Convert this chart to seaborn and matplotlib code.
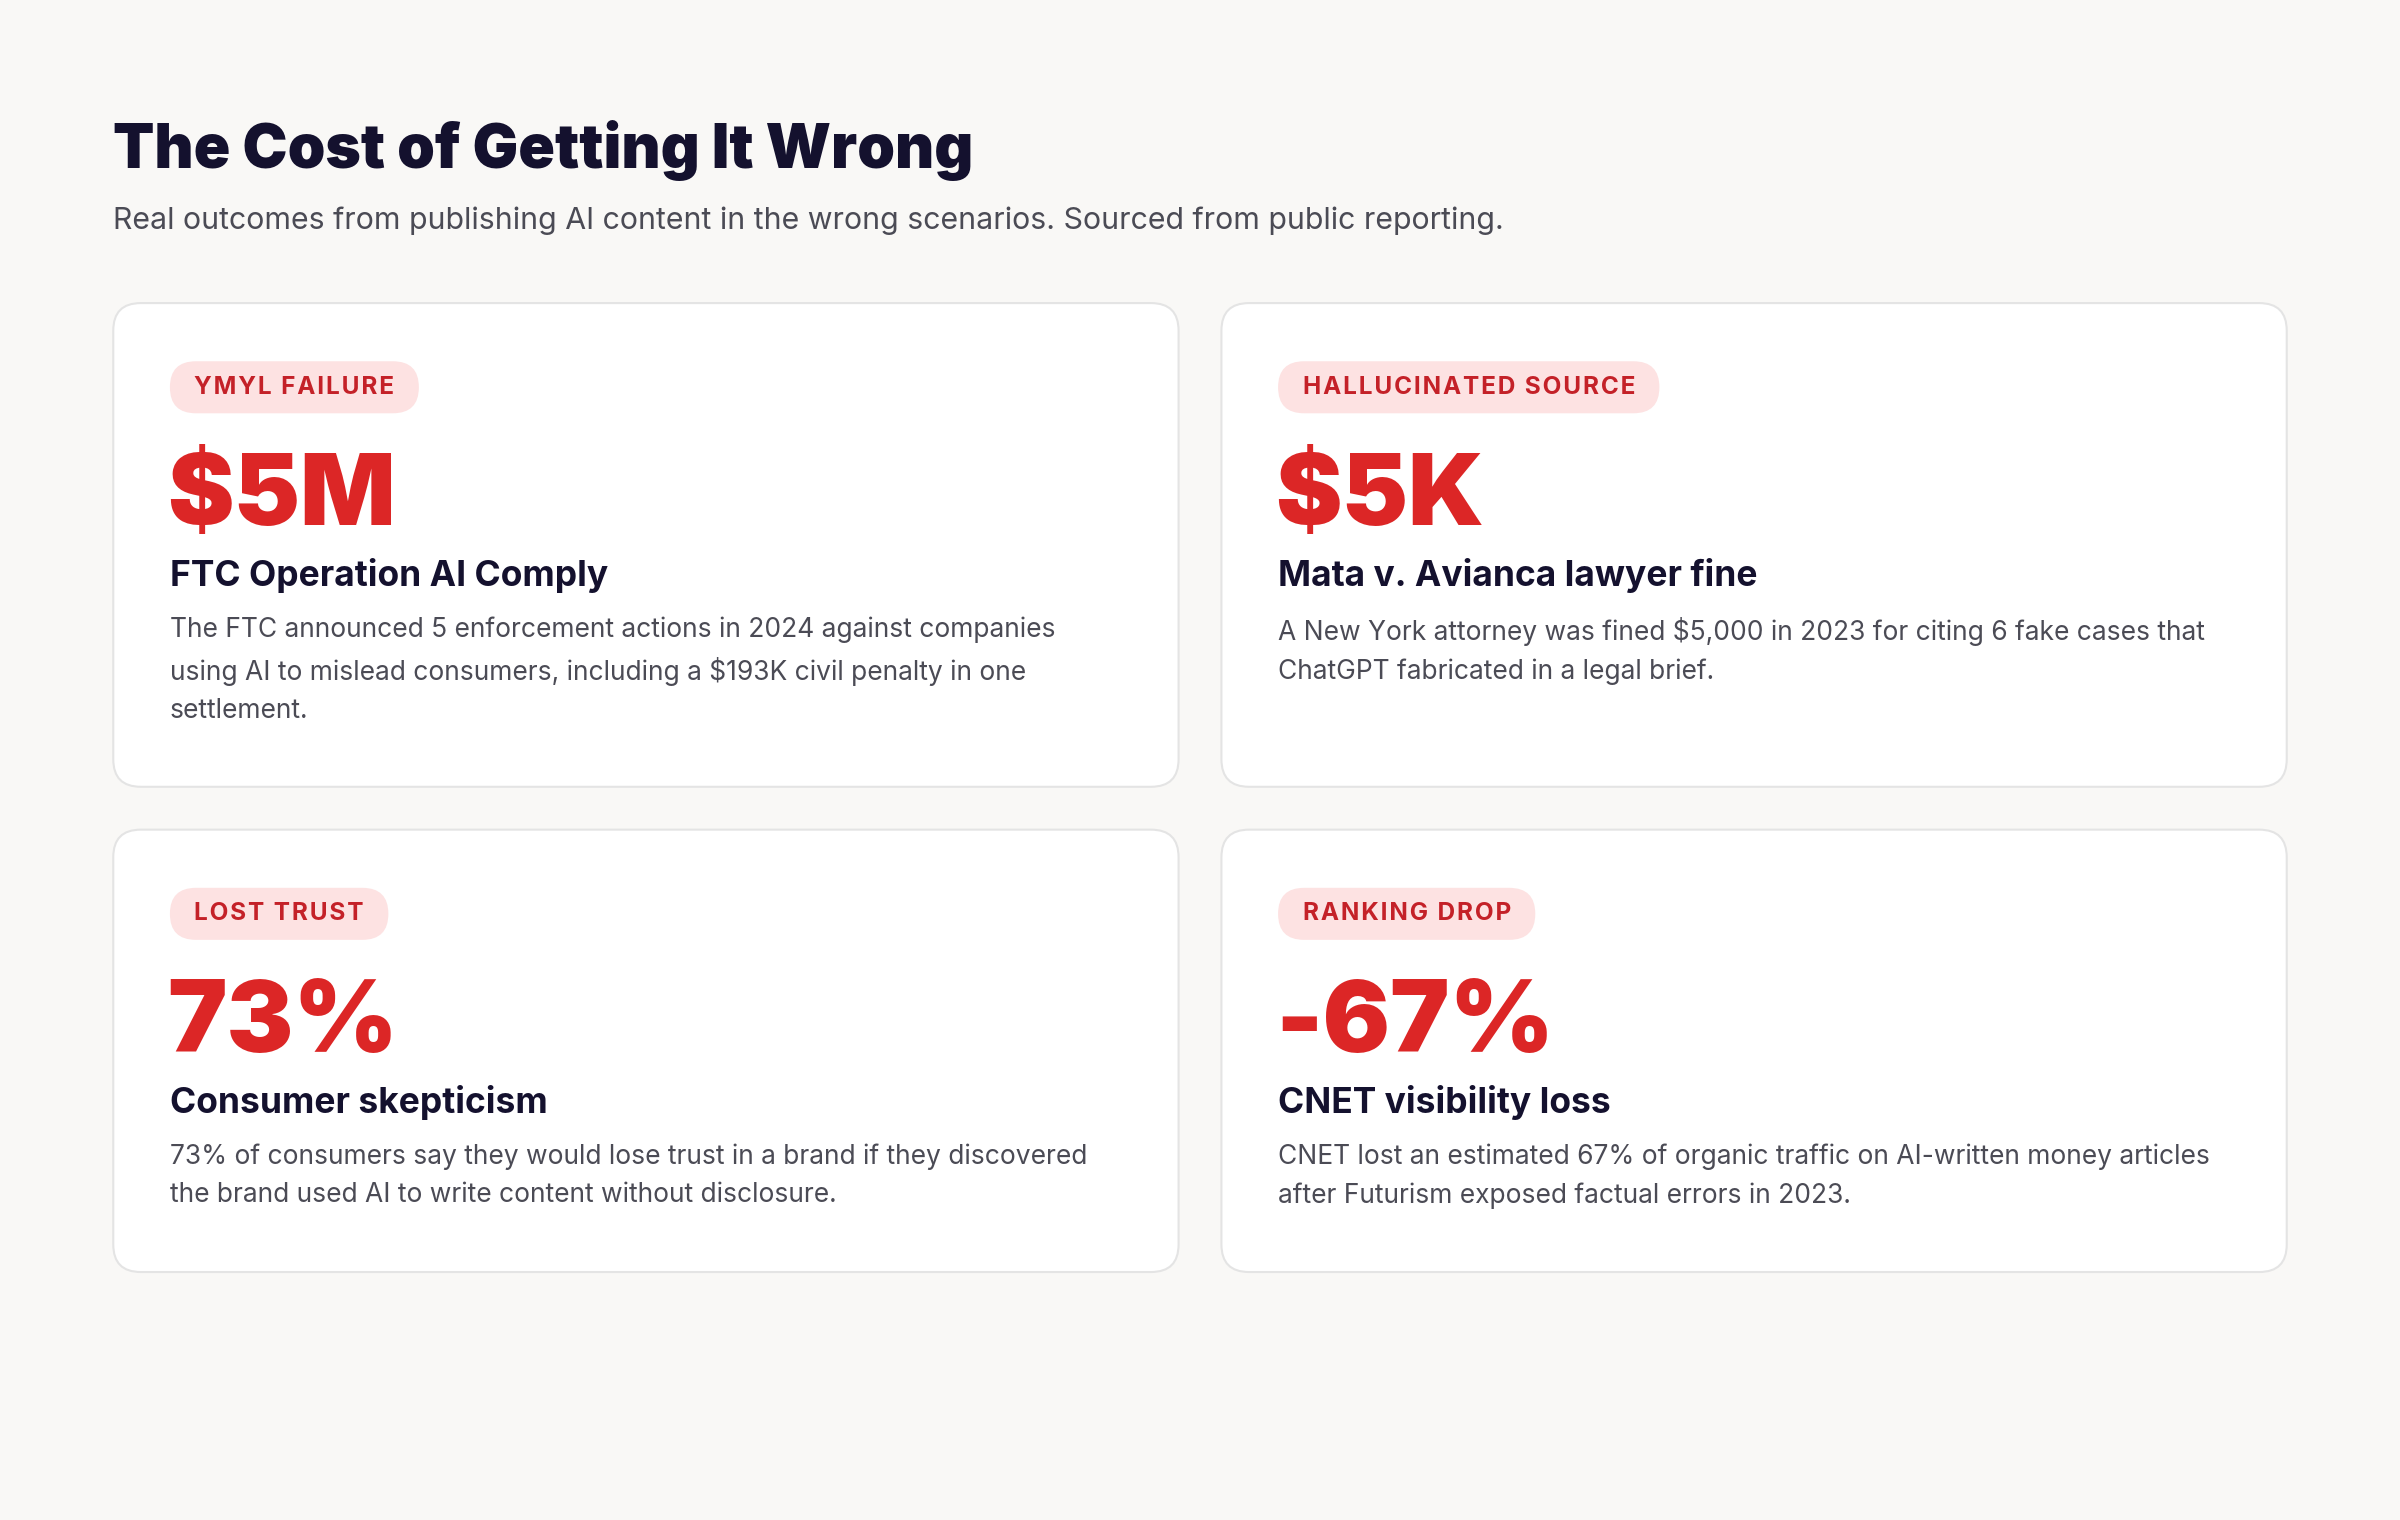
import matplotlib.pyplot as plt
import seaborn as sns
from matplotlib.patches import FancyBboxPatch

sns.set_theme(style='white')
plt.rcParams['font.family'] = ['Inter', 'DejaVu Sans']

# chart content
title = 'The Cost of Getting It Wrong'
subtitle = ('Real outcomes from publishing AI content in the wrong scenarios. '
            'Sourced from public reporting.')
badges = ['YMYL FAILURE', 'HALLUCINATED SOURCE', 'LOST TRUST', 'RANKING DROP']
figures = ['$5M', '$5K', '73%', '-67%']
headings = ['FTC Operation AI Comply', 'Mata v. Avianca lawyer fine',
            'Consumer skepticism', 'CNET visibility loss']
descriptions = [
    'The FTC announced 5 enforcement actions in 2024 against companies\n'
    'using AI to mislead consumers, including a $193K civil penalty in one\n'
    'settlement.',
    'A New York attorney was fined $5,000 in 2023 for citing 6 fake cases that\n'
    'ChatGPT fabricated in a legal brief.',
    '73% of consumers say they would lose trust in a brand if they discovered\n'
    'the brand used AI to write content without disclosure.',
    'CNET lost an estimated 67% of organic traffic on AI-written money articles\n'
    'after Futurism exposed factual errors in 2023.',
]

BG = '#f9f8f6'
RED = '#dc2626'
NAVY = '#14112e'
GREY = '#4b4b55'

fig = plt.figure(figsize=(24, 15.2), dpi=100)
fig.patch.set_facecolor(BG)
ax = fig.add_axes([0, 0, 1, 1])
ax.set_xlim(0, 1568)
ax.set_ylim(993, 0)
ax.axis('off')
ax.set_facecolor(BG)

ax.text(74, 98, title, fontsize=43.5, fontweight=900, color=NAVY, va='center')
ax.text(74, 144, subtitle, fontsize=21.8, color=GREY, va='center')

# card layout (left x, top y, height)
cols = [74, 798]
rows = [(198, 316), (542, 289)]
card_w = 696

for i in range(4):
    x0 = cols[i % 2]
    y0, h = rows[i // 2]
    ax.add_patch(FancyBboxPatch((x0, y0), card_w, h,
                                boxstyle='round,pad=0,rounding_size=18',
                                facecolor='white', edgecolor='#e4e4e4', lw=1.5))
    bx = x0 + 37
    by = y0 + 55
    # spaced-out badge label
    t = ax.text(bx + 16, by, '\u200a'.join(badges[i]), fontsize=17.5,
                fontweight='bold', color='#c42128', va='center', zorder=2,
                family=['Inter', 'DejaVu Sans'])
    fig.canvas.draw()
    bb = t.get_window_extent().transformed(ax.transData.inverted())
    bw = bb.x1 - bb.x0 + 32
    ax.add_patch(FancyBboxPatch((bx, by - 17), bw, 34,
                                boxstyle='round,pad=0,rounding_size=17',
                                facecolor='#fde2e2', edgecolor='none', zorder=1))
    ax.text(bx - 2, y0 + 128, figures[i], fontsize=72, fontweight=900,
            color=RED, va='center')
    ax.text(bx, y0 + 178, headings[i], fontsize=25.5, fontweight='bold',
            color=NAVY, va='center')
    ax.text(bx, y0 + 205, descriptions[i], fontsize=19, color=GREY,
            va='top', linespacing=1.6)

plt.savefig('out.png', dpi=100, facecolor=BG)
